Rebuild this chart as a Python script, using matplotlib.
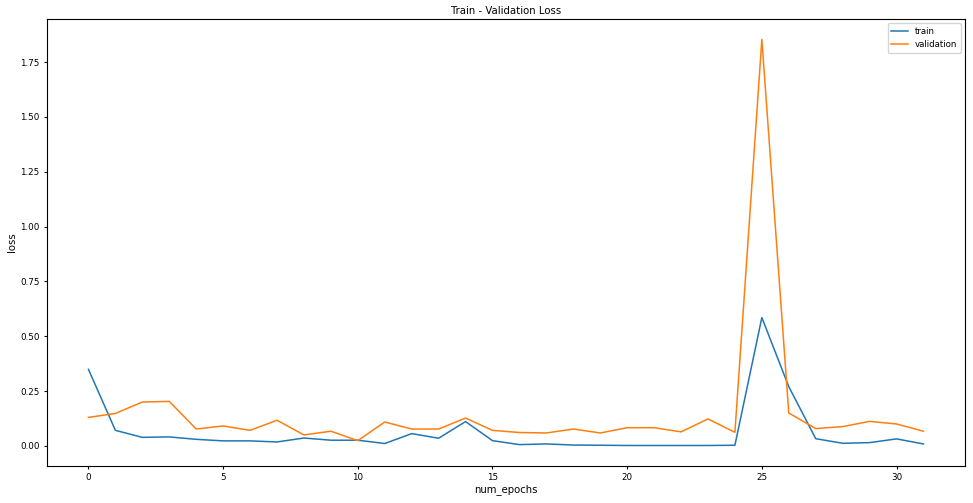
import numpy as np
import matplotlib.pyplot as plt

epochs = list(range(32))
train_loss = [0.349, 0.071, 0.039, 0.041, 0.030, 0.023, 0.023, 0.018, 0.036, 0.026,
              0.026, 0.011, 0.056, 0.035, 0.111, 0.024, 0.006, 0.009, 0.004, 0.003,
              0.002, 0.002, 0.002, 0.002, 0.003, 0.585, 0.270, 0.033, 0.012, 0.015,
              0.032, 0.009]
val_loss = [0.130, 0.148, 0.200, 0.203, 0.077, 0.091, 0.071, 0.117, 0.050, 0.067,
            0.024, 0.109, 0.077, 0.077, 0.127, 0.071, 0.061, 0.059, 0.077, 0.059,
            0.083, 0.083, 0.064, 0.123, 0.062, 1.853, 0.150, 0.079, 0.088, 0.112,
            0.100, 0.067]

fig = plt.figure(figsize=(9.73, 5.03), dpi=100)
ax = fig.add_axes([0.048, 0.074, 0.944, 0.888])
ax.plot(epochs, train_loss, label='train', lw=1.1)
ax.plot(epochs, val_loss, label='validation', lw=1.1)
ax.set_title('Train - Validation Loss', fontsize=7.3, pad=4)
ax.set_xlabel('num_epochs', fontsize=7.3, labelpad=2)
ax.set_ylabel('loss', fontsize=7.3, labelpad=2)
ax.tick_params(labelsize=6.3, length=2.5, pad=2.5)
ax.legend(loc='upper right', fontsize=6.2)
fig.savefig('out.png', dpi=100)
